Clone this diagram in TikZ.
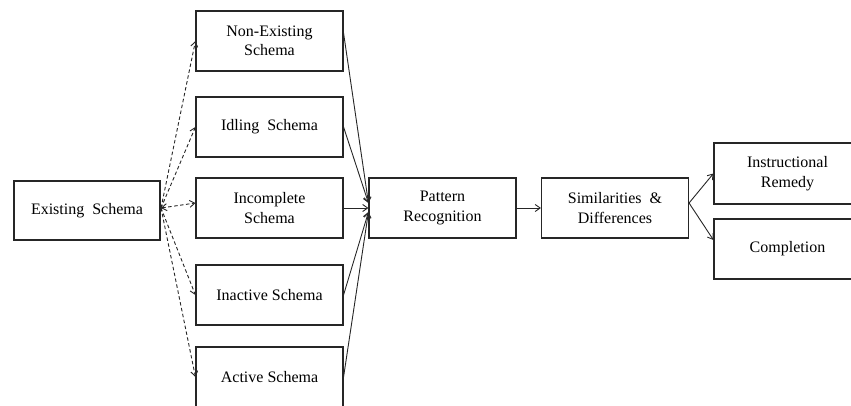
\documentclass[tikz,border=0pt]{standalone}
\usepackage{fontspec}
\setmainfont{Liberation Serif}
\usetikzlibrary{arrows.meta}
\begin{document}
\begin{tikzpicture}[x=1pt,y=-1pt,
  box/.style={draw=black!85, line width=1.1pt, minimum width=147pt, minimum height=60pt, inner sep=2pt, align=center, font=\fontsize{16}{19.5}\selectfont},
  flow/.style={draw=black!85, line width=0.9pt, -{Straight Barb[length=5pt,width=7pt]}},
  dflow/.style={flow, dashed, dash pattern=on 3.5pt off 2.5pt}]
\useasboundingbox (0,0) rectangle (851,406);
\clip (0,0) rectangle (851,406);
\node[box, minimum width=146pt, minimum height=59pt] (ex) at (87,210.5) {Existing\ \ Schema};
\node[box] (ne) at (269.5,41) {Non-Existing\\Schema};
\node[box] (id) at (269.5,127) {Idling\ \ Schema};
\node[box] (ic) at (269.5,208) {Incomplete\\Schema};
\node[box] (ia) at (269.5,295) {Inactive Schema};
\node[box] (ac) at (269.5,377) {Active Schema};
\node[box] (pr) at (442.5,208) {Pattern\\Recognition};
\node[box] (sd) at (615,208) {Similarities\ \ \&\\Differences};
\node[box, minimum height=61pt] (ir) at (787.5,173.5) {Instructional\\Remedy};
\node[box] (co) at (787.5,249) {Completion};
\coordinate (exo) at (161,208);
\draw[dflow] (exo) -- (ne.west);
\draw[dflow] (exo) -- (id.west);
\draw[dflow, {Straight Barb[length=5pt,width=7pt]}-{Straight Barb[length=5pt,width=7pt]}] (exo) -- ([yshift=5pt]ic.west);
\draw[dflow] (exo) -- (ia.west);
\draw[dflow] (exo) -- (ac.west);
\draw[flow] ([yshift=8pt]ne.east) -- ([yshift=5pt]pr.west);
\draw[flow] (id.east) -- ([yshift=5pt]pr.west);
\draw[flow] (ic.east) -- (pr.west);
\draw[flow] (ia.east) -- ([yshift=-4pt]pr.west);
\draw[flow] (ac.east) -- ([yshift=-4pt]pr.west);
\draw[flow] (pr.east) -- (sd.west);
\draw[flow] ([yshift=5pt]sd.east) -- (ir.west);
\draw[flow] ([yshift=5pt]sd.east) -- ([yshift=9pt]co.west);
\end{tikzpicture}
\end{document}
